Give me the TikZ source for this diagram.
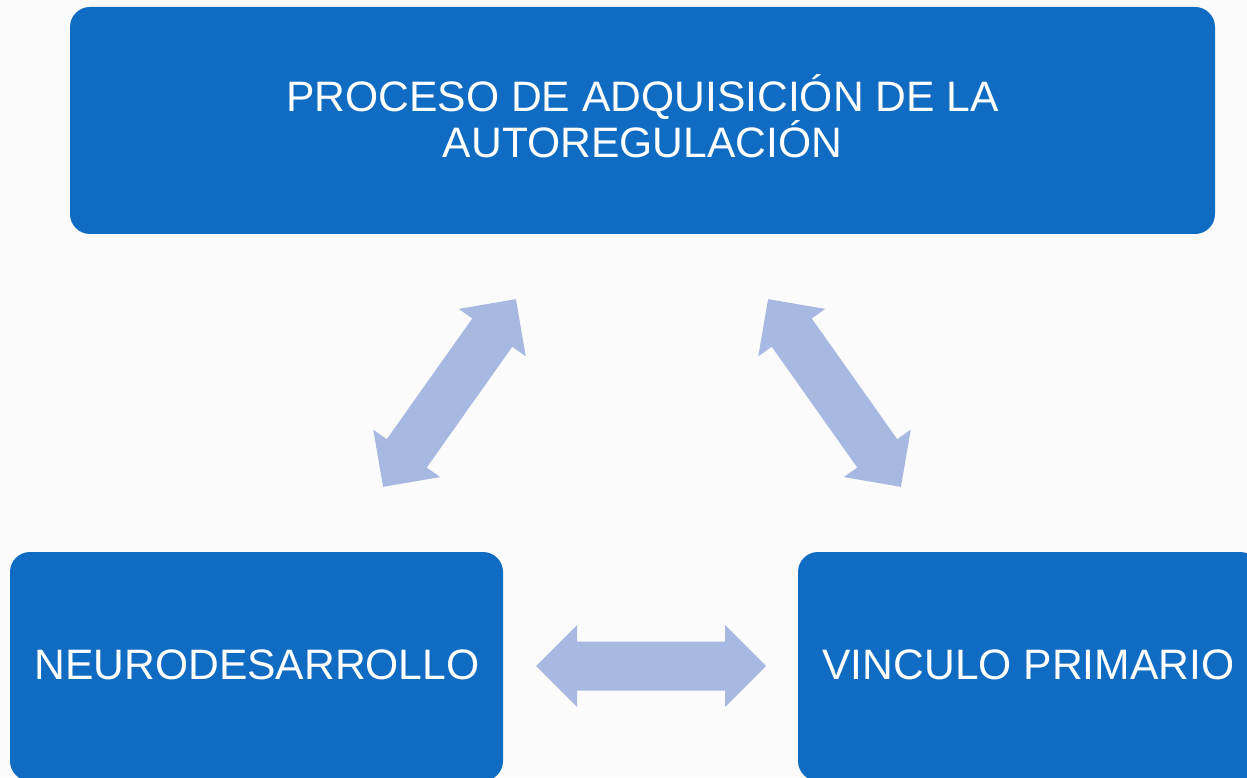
\documentclass[tikz,border=0pt]{standalone}
\usepackage{fontspec}
\setmainfont{Liberation Sans}
\definecolor{boxblue}{RGB}{15,108,194}
\definecolor{arrowblue}{RGB}{167,185,224}
\definecolor{bgc}{RGB}{251,251,251}
\begin{document}
\begin{tikzpicture}[x=1pt,y=1pt,
  labelstyle/.style={text=white, font=\fontsize{42.6}{44}\selectfont, align=center, inner sep=0pt},
  darrow/.pic={\fill[arrowblue] (-115,0) -- (-74,41) -- (-74,24.5) -- (74,24.5) -- (74,41) -- (115,0) -- (74,-41) -- (74,-24.5) -- (-74,-24.5) -- (-74,-41) -- cycle;}]
\useasboundingbox (0,0) rectangle (1247,777);
\clip (0,0) rectangle (1247,777);
\fill[bgc] (0,0) rectangle (1247,777);
% boxes
\fill[boxblue, rounded corners=20pt] (70,543) rectangle (1215,770);
\fill[boxblue, rounded corners=20pt] (10,-4) rectangle (503,225);
\fill[boxblue, rounded corners=20pt] (798,-4) rectangle (1260,225);
\node[labelstyle] (top) at (642.5,661) {PROCESO DE ADQUISICIÓN DE LA\\AUTOREGULACIÓN};
\node[labelstyle] (left) at (257,112.5) {NEURODESARROLLO};
\node[labelstyle] (right) at (1028.5,112.5) {VINCULO PRIMARIO};
% arrows
\pic[rotate=54.7] at (449.5,384) {darrow};
\pic[rotate=125.3] at (834.5,384) {darrow};
\pic at (651,111) {darrow};
\end{tikzpicture}
\end{document}
